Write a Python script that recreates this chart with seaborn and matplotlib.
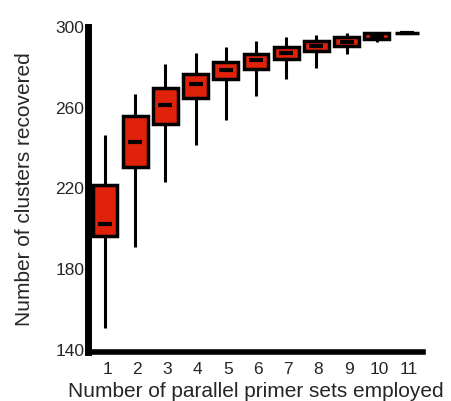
import pandas as pd
import matplotlib.pyplot as plt
import matplotlib.transforms as mtransforms
import seaborn as sns

primer_sets = ['1', '2', '3', '4', '5', '6', '7', '8', '9', '10', '11']
whisker_low = [151, 191, 223, 241.5, 254, 266, 274, 279.5, 286.5, 292.5, 297]
q1 = [196.5, 230.5, 252, 265, 274, 279, 284, 288, 290.5, 294, 297]
median = [202.5, 243, 261.5, 271.5, 278.5, 283.5, 287, 290.5, 292.5, 295.5, 297]
q3 = [221.5, 256, 269.5, 276.5, 282.5, 286.5, 290, 293, 295, 297, 297]
whisker_high = [246.5, 267, 281.5, 287, 290, 293, 295, 296, 297, 297, 297]

# five numbers per group -> quartiles land exactly on q1/median/q3
rows = []
for k, a, b, c, d, e in zip(primer_sets, whisker_low, q1, median, q3, whisker_high):
    for v in (a, b, c, d, e):
        rows.append({'sets': k, 'clusters': v})
df = pd.DataFrame(rows)
df_med = pd.DataFrame({'sets': primer_sets, 'clusters': median})

sns.set_style('white')
plt.rcParams['font.family'] = ['Liberation Sans', 'DejaVu Sans']

fig = plt.figure(figsize=(4.51, 4.01), dpi=100)
ax = fig.add_axes([0.196, 0.122, 0.742, 0.811])

sns.boxplot(data=df, x='sets', y='clusters', order=primer_sets, whis=(0, 100),
            width=0.82, color='#e0220b', saturation=1, linewidth=2.2,
            linecolor='black', showcaps=False, ax=ax,
            medianprops={'visible': False},
            whiskerprops={'linewidth': 2.2},
            boxprops={'edgecolor': 'black', 'linewidth': 2.5})

sns.pointplot(data=df_med, x='sets', y='clusters', order=primer_sets,
              errorbar=None, linestyle='none', markers='_', color='black',
              markersize=9.5, markeredgewidth=3, ax=ax)

ax.set_xlim(-0.55, 10.53)
ax.set_ylim(139, 299)
ax.set_yticks([140, 180, 220, 260, 300])

for side in ['top', 'right']:
    ax.spines[side].set_visible(False)
ax.spines['left'].set_linewidth(5)
ax.spines['bottom'].set_linewidth(4)
ax.spines['left'].set_color('black')
ax.spines['bottom'].set_color('black')

ax.tick_params(axis='y', length=2, width=1.5, pad=1, labelsize=12.5, left=True)
ax.tick_params(axis='x', length=0, pad=7, labelsize=12.5)
offset = mtransforms.ScaledTranslation(2 / 100, 0, fig.dpi_scale_trans)
for lab in ax.get_xticklabels():
    lab.set_transform(lab.get_transform() + offset)

ax.set_xlabel('Number of parallel primer sets employed', fontsize=15, labelpad=4)
ax.set_ylabel('Number of clusters recovered', fontsize=15, labelpad=15)

fig.savefig('out.png', dpi=100)
